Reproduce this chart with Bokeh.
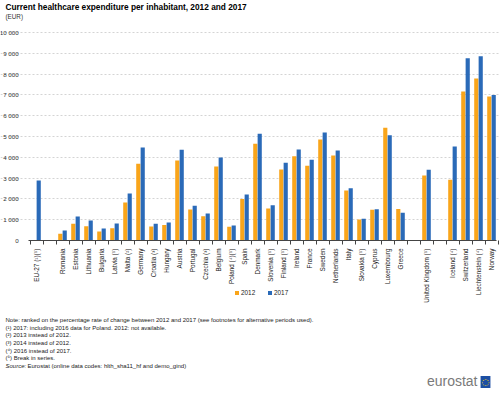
import math
from bokeh.plotting import figure
from bokeh.models import (ColumnDataSource, FixedTicker, Label, Legend, LegendItem, Range1d)
from bokeh.transform import dodge
from bokeh.embed import file_html
from bokeh.resources import INLINE

# ---- data ("" marks an empty slot in the category axis) ----
categories = ["EU-27 (¹)(⁵)", "", "Romania", "Estonia", "Lithuania", "Bulgaria", "Latvia (⁵)",
              "Malta (²)", "Germany", "Croatia (³)", "Hungary", "Austria", "Portugal",
              "Czechia (³)", "Belgium", "Poland (⁴)(⁵)", "Spain", "Denmark", "Slovenia (⁵)",
              "Finland (⁵)", "Ireland", "France", "Sweden", "Netherlands", "Italy",
              "Slovakia (⁵)", "Cyprus", "Luxembourg", "Greece", "", "United Kingdom (⁵)", "",
              "Iceland (⁴)", "Switzerland", "Liechtenstein (⁴)", "Norway"]
v2012 = [None, None, 320, 800, 690, 430, 590, 1830, 3690, 670, 740, 3850, 1490, 1170, 3560,
         660, 2000, 4650, 1540, 3410, 4050, 3590, 4860, 4090, 2400, 1010, 1480, 5420, 1520,
         None, 3125, None, 2920, 7160, 7790, 6920]
v2017 = [2880, None, 480, 1150, 960, 580, 820, 2260, 4470, 800, 870, 4360, 1670, 1300, 3990,
         720, 2210, 5130, 1700, 3735, 4375, 3880, 5190, 4330, 2510, 1040, 1500, 5060, 1330,
         None, 3400, None, 4520, 8760, 8860, 6990]
series_names = ["2012", "2017"]
y_ticks = list(range(0, 10001, 1000))

title_text = "Current healthcare expenditure per inhabitant, 2012 and 2017"
unit_text = "(EUR)"
notes = [
    "Note: ranked on the percentage rate of change between 2012 and 2017 (see footnotes for alternative periods used).",
    "(¹) 2017: including 2016 data for Poland. 2012: not available.",
    "(²) 2013 instead of 2012.",
    "(³) 2014 instead of 2012.",
    "(⁴) 2016 instead of 2017.",
    "(⁵) Break in series.",
]
source_label = "Source:"
source_text = "Eurostat (online data codes: hlth_sha11_hf and demo_gind)"

ORANGE = "#F9A51A"
BLUE = "#2A6AB8"
FONT = "Liberation Sans"

W, H = 500, 395
SX = 13.0           # px per category slot
X0 = 36             # canvas x of first slot centre
ZERO = 240          # canvas y of value 0
SY = 0.0208         # px per EUR

n = len(categories)
x_lo, x_hi = -0.6, n - 0.6

src = ColumnDataSource(dict(
    x=list(range(n)),
    v2012=[float("nan") if v is None else v for v in v2012],
    v2017=[float("nan") if v is None else v for v in v2017],
))

p = figure(width=W, height=H, output_backend="svg", toolbar_location=None, title=None,
           x_range=Range1d(-X0 / SX, (W - X0) / SX),
           y_range=Range1d(-(H - ZERO) / SY, ZERO / SY),
           min_border_left=0, min_border_right=0, min_border_top=0, min_border_bottom=0)
p.outline_line_color = None
p.background_fill_color = "white"
p.border_fill_color = "white"

r12 = p.vbar(x=dodge("x", -0.17), top="v2012", width=0.32, source=src,
             fill_color=ORANGE, line_color=None)
r17 = p.vbar(x=dodge("x", 0.17), top="v2017", width=0.32, source=src,
             fill_color=BLUE, line_color=None)

# x axis (drawn at value 0, inside the frame)
centers = [i for i, c in enumerate(categories) if c]
bounds = [i - 0.5 for i in range(n + 1)]
xa = p.xaxis[0]
xa.fixed_location = 0
xa.bounds = (x_lo, x_hi)
xa.ticker = FixedTicker(ticks=centers, minor_ticks=bounds)
xa.major_label_overrides = {i: categories[i] for i in centers}
xa.major_label_orientation = math.pi / 2
xa.major_tick_out = 0
xa.major_tick_in = 0
xa.minor_tick_out = 4
xa.minor_tick_in = 0
xa.minor_tick_line_color = "#444444"
xa.axis_line_color = "#444444"
xa.major_label_text_font = FONT
xa.major_label_text_font_size = "6.4px"
xa.major_label_text_color = "#222222"
xa.major_label_standoff = 4

# y axis
ya = p.yaxis[0]
ya.fixed_location = x_lo
ya.bounds = (0, 10000)
ya.ticker = FixedTicker(ticks=y_ticks)
ya.major_label_overrides = {t: f"{t:,}".replace(",", " ") for t in y_ticks}
ya.axis_line_color = None
ya.major_tick_line_color = None
ya.minor_tick_line_color = None
ya.major_label_text_font = FONT
ya.major_label_text_font_size = "6.2px"
ya.major_label_text_color = "#333333"
ya.major_label_standoff = 4

p.xgrid.visible = False
p.ygrid.grid_line_color = "#d4d4d4"
p.ygrid.grid_line_dash = "2 2"
p.ygrid.ticker = FixedTicker(ticks=y_ticks[1:])
p.ygrid.bounds = (x_lo, x_hi)


def sy(y):
    return H - y


def lab(x, y, text, size="6px", style="normal", color="#222222", baseline="middle",
        align="left", font=FONT, **kw):
    p.add_layout(Label(x=x, y=sy(y), x_units="screen", y_units="screen", text=text,
                       text_font=font, text_font_size=size, text_font_style=style,
                       text_color=color, text_baseline=baseline, text_align=align, **kw))


# title
lab(5, 6.5, title_text, size="8.3px", style="bold", color="#000000")
lab(5, 15.5, unit_text, size="6.3px", color="#333333")

# legend
legend = Legend(items=[LegendItem(label=series_names[0], renderers=[r12]),
                       LegendItem(label=series_names[1], renderers=[r17])],
                orientation="horizontal", location=(234, sy(296)),
                glyph_width=5, glyph_height=5, label_standoff=2, spacing=6, padding=0,
                margin=0, border_line_color=None, background_fill_alpha=0,
                label_text_font=FONT, label_text_font_size="6.4px", label_height=6,
                label_text_color="#222222")
p.add_layout(legend)

# notes
y0 = 319.4
for i, t in enumerate(notes):
    lab(5, y0 + i * 7.67, t)
lab(5, y0 + 6 * 7.67, source_label, style="italic")
lab(27, y0 + 6 * 7.67, source_text)

# eurostat logo
lab(477, 388, "eurostat", size="14px", color="#7a7a7a", baseline="bottom", align="right")
lab(485, 381.5, "◌", size="9px", color="#FFDD00", font="DejaVu Sans", align="center",
    background_fill_color="#1d4fa3", padding=1)

html = file_html(p, INLINE)
open("out.html", "w").write(html)
